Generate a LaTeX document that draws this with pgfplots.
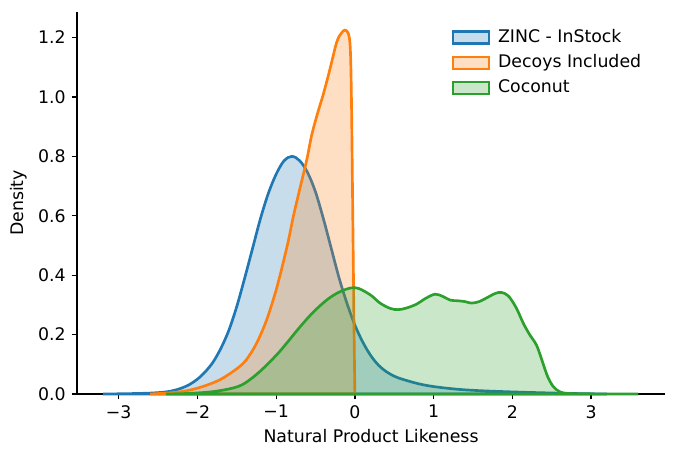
\documentclass[border=0pt]{standalone}
\usepackage{pgfplots}
\pgfplotsset{compat=1.18}
\usepackage{fontspec}
\setmainfont{DejaVu Sans}
\definecolor{tabblue}{HTML}{1F77B4}
\definecolor{taborange}{HTML}{FF7F0E}
\definecolor{tabgreen}{HTML}{2CA02C}
\begin{document}
\fontsize{13}{15}\selectfont
\begin{tikzpicture}
\begin{axis}[
  scale only axis,
  width=441pt, height=286.5pt,
  xmin=-3.53, xmax=3.94, ymin=0, ymax=1.286,
  axis x line*=bottom, axis y line*=left,
  axis line style={-, line width=1.4pt},
  xtick={-3,-2,-1,0,1,2,3},
  xticklabels={−3,−2,−1,0,1,2,3},
  ytick={0,0.2,0.4,0.6,0.8,1.0,1.2},
  yticklabels={0.0,0.2,0.4,0.6,0.8,1.0,1.2},
  tick align=outside,
  major tick length=4pt,
  tick style={black, line width=1pt},
  ticklabel style={font=\fontsize{13}{15}\selectfont},
  xlabel={Natural Product Likeness},
  ylabel={Density},
  label style={font=\fontsize{13}{15}\selectfont},
  xlabel style={yshift=1pt},
  ylabel style={yshift=-1pt},
  every axis plot/.append style={line width=2pt, smooth, tension=0.55},
  legend style={draw=none, fill=none, at={(0.635,0.965)}, anchor=north west,
    font=\fontsize{13}{15}\selectfont, row sep=3pt, inner sep=1pt,
    nodes={inner xsep=6pt}},
  legend cell align=left,
  legend image code/.code={\draw[#1, line width=1.6pt] (0pt,-4.5pt) rectangle (27pt,4.5pt);},
  clip=false,
]
\addplot[tabblue, fill=tabblue, fill opacity=0.25] coordinates {
(-3.2,0) (-2.9,0.001) (-2.6,0.003) (-2.4,0.007) (-2.3,0.012) (-2.2,0.02) (-2.1,0.032)
(-2.0,0.05) (-1.9,0.075) (-1.8,0.108) (-1.7,0.155) (-1.6,0.215) (-1.5,0.295)
(-1.4,0.39) (-1.3,0.49) (-1.2,0.59) (-1.1,0.675) (-1.0,0.74) (-0.9,0.785) (-0.8,0.80)
(-0.7,0.785) (-0.6,0.745) (-0.5,0.68) (-0.4,0.59) (-0.3,0.49) (-0.2,0.39)
(-0.1,0.305) (0,0.232) (0.1,0.175) (0.2,0.13) (0.3,0.097) (0.4,0.075) (0.5,0.06)
(0.6,0.05) (0.8,0.035) (1.0,0.025) (1.3,0.016) (1.6,0.011) (2.0,0.007) (2.4,0.004)
(2.8,0.0015) (3.2,0)
} \closedcycle;
\addlegendentry{ZINC - InStock}
\addplot[taborange, fill=taborange, fill opacity=0.25] coordinates {
(-2.6,0) (-2.3,0.005) (-2.1,0.013) (-1.9,0.028) (-1.7,0.05) (-1.5,0.085)
(-1.38,0.115) (-1.25,0.17) (-1.12,0.25) (-1.0,0.35) (-0.95,0.40) (-0.85,0.51)
(-0.78,0.60) (-0.7,0.69) (-0.61,0.79) (-0.55,0.87) (-0.49,0.93) (-0.44,0.975)
(-0.40,1.01) (-0.32,1.09) (-0.23,1.185) (-0.17,1.215) (-0.127,1.225)
(-0.085,1.215) (-0.062,1.18) (-0.05,1.09) (-0.04,0.92) (-0.03,0.68)
(-0.02,0.44) (-0.01,0.2) (0,0)
} \closedcycle;
\addlegendentry{Decoys Included}
\addplot[tabgreen, fill=tabgreen, fill opacity=0.25] coordinates {
(-2.4,0) (-2.1,0.002) (-1.8,0.008) (-1.55,0.02) (-1.4,0.036) (-1.21,0.075)
(-1.0,0.13) (-0.87,0.17) (-0.7,0.225) (-0.53,0.275) (-0.35,0.318) (-0.2,0.343)
(-0.05,0.357) (0.05,0.355) (0.2,0.333) (0.32,0.306) (0.45,0.288) (0.55,0.284)
(0.65,0.289) (0.78,0.302) (0.9,0.322) (1.02,0.336) (1.12,0.328) (1.21,0.316)
(1.3,0.314) (1.4,0.311) (1.48,0.306) (1.58,0.311) (1.67,0.323) (1.78,0.338)
(1.86,0.342) (1.95,0.33) (2.05,0.29) (2.14,0.238) (2.22,0.2) (2.31,0.163)
(2.39,0.103) (2.45,0.058) (2.52,0.025) (2.6,0.008) (2.7,0.002) (3.0,0.0005) (3.6,0)
} \closedcycle;
\addlegendentry{Coconut}
\coordinate (bl) at (rel axis cs:-0.131,-0.1728);
\coordinate (tr) at (rel axis cs:1.0204,1.0314);
\end{axis}
\pgfresetboundingbox
\path[use as bounding box] (bl) rectangle (tr);
\end{tikzpicture}
\end{document}
